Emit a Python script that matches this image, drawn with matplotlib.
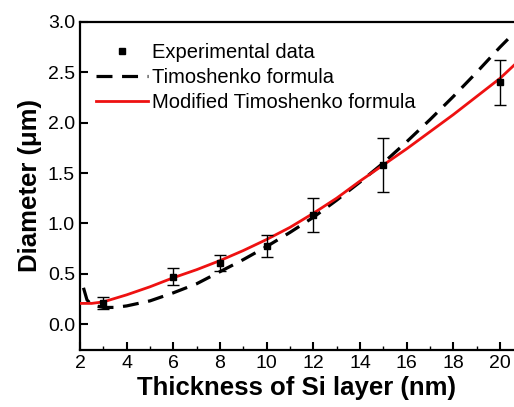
import matplotlib
matplotlib.use("Agg")
import matplotlib.pyplot as plt
from matplotlib.lines import Line2D

plt.rcParams['font.family'] = ['Liberation Sans', 'DejaVu Sans']

# --- datos experimentales ---
thickness = [3, 6, 8, 10, 12, 15, 20]
diameter = [0.21, 0.47, 0.61, 0.775, 1.08, 1.58, 2.40]
diameter_err = [0.06, 0.085, 0.08, 0.11, 0.17, 0.27, 0.22]

# --- curvas ---
timo_x = [2.15, 2.3, 2.5, 3, 3.5, 4, 5, 6, 7, 8, 9, 10, 11, 12, 13, 14, 15, 16, 17, 18, 19, 20, 20.6]
timo_y = [0.36, 0.24, 0.19, 0.165, 0.165, 0.18, 0.23, 0.31, 0.40, 0.52, 0.64, 0.77, 0.91, 1.06,
          1.23, 1.41, 1.60, 1.81, 2.03, 2.26, 2.50, 2.75, 2.89]

mod_x = [2, 2.5, 3, 4, 5, 6, 7, 8, 9, 10, 11, 12, 13, 14, 15, 16, 17, 18, 19, 20, 20.6]
mod_y = [0.205, 0.205, 0.22, 0.29, 0.37, 0.46, 0.54, 0.63, 0.73, 0.84, 0.96, 1.10, 1.25, 1.42,
         1.58, 1.74, 1.91, 2.08, 2.26, 2.44, 2.57]

labels = ["Experimental data", "Timoshenko formula", "Modified Timoshenko formula"]

fig = plt.figure(figsize=(5.14, 4.07), dpi=100)
ax = fig.add_axes([0.1556, 0.140, 0.8444, 0.806])

ax.errorbar(thickness, diameter, yerr=diameter_err, fmt="s", color="black", ms=5,
            ecolor="black", elinewidth=1, capsize=4, capthick=1, zorder=4)
ax.plot(timo_x, timo_y, color="black", lw=2.3, dashes=(5, 3), zorder=3)
ax.plot(mod_x, mod_y, color="#ee1111", lw=2, zorder=3)

ax.set_xlim(2, 20.6)
ax.set_ylim(-0.258, 3.0)
ax.set_xticks([2, 4, 6, 8, 10, 12, 14, 16, 18, 20])
ax.set_xticks([3, 5, 7, 9, 11, 13, 15, 17, 19], minor=True)
ax.set_yticks([0.0, 0.5, 1.0, 1.5, 2.0, 2.5, 3.0])
ax.set_yticklabels(["0.0", "0.5", "1.0", "1.5", "2.0", "2.5", "3.0"])
ax.tick_params(which="major", direction="in", length=6, width=1.5, labelsize=14)
ax.tick_params(which="minor", direction="in", length=3, width=1)
ax.spines["right"].set_visible(False)
for s in ["left", "bottom", "top"]:
    ax.spines[s].set_linewidth(1.6)

ax.set_xlabel("Thickness of Si layer (nm)", fontsize=18.5, fontweight="bold", labelpad=3)
ax.set_ylabel("Diameter (\u03bcm)", fontsize=18.5, fontweight="bold", labelpad=4)

handles = [Line2D([], [], ls="none", marker="s", color="black", ms=5),
           Line2D([], [], color="black", lw=2.3, dashes=(5, 3)),
           Line2D([], [], color="#ee1111", lw=2)]
ax.legend(handles, labels, loc="upper left", frameon=False, fontsize=14.5, handlelength=2.6,
          borderaxespad=0.0, labelspacing=0.3, handletextpad=0.2, bbox_to_anchor=(0.018, 0.96))

fig.savefig("out.png", dpi=100)
